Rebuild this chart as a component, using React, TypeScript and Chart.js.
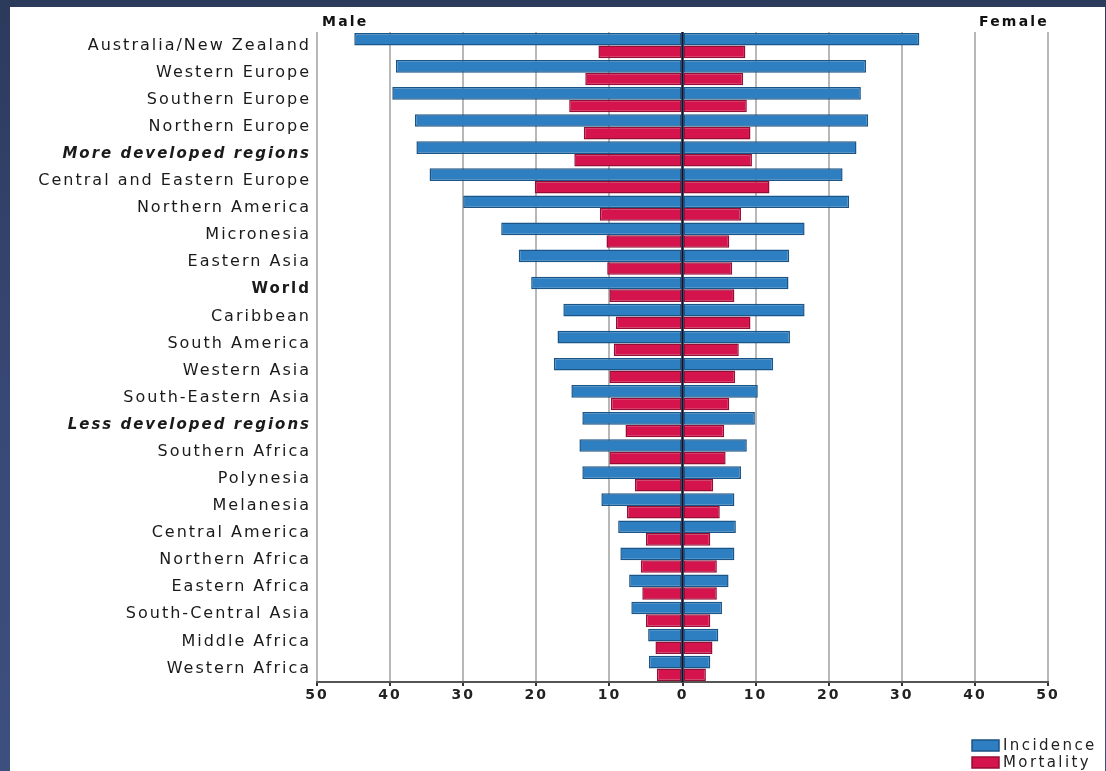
import React, { useEffect, useRef } from "react";
import { Chart, registerables } from "chart.js";

Chart.register(...registerables);

const categories = [
  "Australia/New Zealand",
  "Western Europe",
  "Southern Europe",
  "Northern Europe",
  "More developed regions",
  "Central and Eastern Europe",
  "Northern America",
  "Micronesia",
  "Eastern Asia",
  "World",
  "Caribbean",
  "South America",
  "Western Asia",
  "South-Eastern Asia",
  "Less developed regions",
  "Southern Africa",
  "Polynesia",
  "Melanesia",
  "Central America",
  "Northern Africa",
  "Eastern Africa",
  "South-Central Asia",
  "Middle Africa",
  "Western Africa",
];

const boldItalicLabels = ["More developed regions", "Less developed regions"];
const boldLabels = ["World"];

const maleIncidence = [44.9, 39.2, 39.7, 36.6, 36.4, 34.6, 30.0, 24.8, 22.4, 20.7, 16.3, 17.1, 17.6, 15.2, 13.7, 14.1, 13.7, 11.1, 8.8, 8.5, 7.3, 7.0, 4.7, 4.6];
const femaleIncidence = [32.4, 25.1, 24.4, 25.4, 23.8, 21.9, 22.8, 16.7, 14.6, 14.5, 16.7, 14.7, 12.4, 10.3, 9.9, 8.8, 8.0, 7.1, 7.3, 7.1, 6.3, 5.4, 4.9, 3.8];
const maleMortality = [11.5, 13.3, 15.5, 13.5, 14.8, 20.2, 11.3, 10.4, 10.3, 10.0, 9.1, 9.4, 10.0, 9.8, 7.8, 10.0, 6.5, 7.6, 5.0, 5.7, 5.5, 5.0, 3.7, 3.5];
const femaleMortality = [8.6, 8.3, 8.8, 9.3, 9.5, 11.9, 8.0, 6.4, 6.8, 7.1, 9.3, 7.7, 7.2, 6.4, 5.7, 5.9, 4.2, 5.1, 3.8, 4.7, 4.7, 3.8, 4.1, 3.2];

const xTickLabels = ["50", "40", "30", "20", "10", "0", "10", "20", "30", "40", "50"];
const sideLabels = ["Male", "Female"];
const seriesNames = ["Incidence", "Mortality"];

const BLUE = "#2d7fc1";
const BLUE_BORDER = "#1b5486";
const RED = "#d5134c";
const RED_BORDER = "#950e36";

const FONT = "'DejaVu Sans', 'Liberation Sans', sans-serif";

const overlayPlugin = {
  id: "overlay",
  beforeDraw(chart: any) {
    (chart.ctx as any).letterSpacing = "2px";
  },
  afterDatasetsDraw(chart: any) {
    const { ctx, chartArea, scales } = chart;
    const x = scales.x;
    const zero = x.getPixelForValue(0);
    ctx.save();
    ctx.strokeStyle = "#0b1533";
    ctx.lineWidth = 2.5;
    ctx.beginPath();
    ctx.moveTo(zero, chartArea.top);
    ctx.lineTo(zero, chartArea.bottom);
    ctx.stroke();
    ctx.restore();
  },
  afterDraw(chart: any) {
    const { ctx, chartArea } = chart;
    ctx.save();
    ctx.fillStyle = "#111";
    ctx.font = `bold 14px ${FONT}`;
    (ctx as any).letterSpacing = "2.2px";
    ctx.textBaseline = "alphabetic";
    ctx.textAlign = "left";
    ctx.fillText(sideLabels[0], chartArea.left + 5, chartArea.top - 6);
    ctx.textAlign = "right";
    ctx.fillText(sideLabels[1], chartArea.right + 1, chartArea.top - 6);

    // legend
    const colors = [
      [BLUE, BLUE_BORDER],
      [RED, RED_BORDER],
    ];
    const lx = 962;
    const ly0 = 733;
    ctx.font = `15px ${FONT}`;
    (ctx as any).letterSpacing = "2.4px";
    ctx.textAlign = "left";
    ctx.textBaseline = "middle";
    seriesNames.forEach((name, i) => {
      const y = ly0 + i * 17;
      ctx.fillStyle = colors[i][0];
      ctx.strokeStyle = colors[i][1];
      ctx.lineWidth = 1.5;
      ctx.fillRect(lx, y, 27, 11);
      ctx.strokeRect(lx, y, 27, 11);
      ctx.fillStyle = "#222";
      ctx.fillText(name, lx + 31, y + 6);
    });
    ctx.restore();
  },
};

export default function App() {
  const canvasRef = useRef<HTMLCanvasElement | null>(null);

  useEffect(() => {
    if (!canvasRef.current) return;
    const common = {
      borderWidth: 1.5,
      borderSkipped: false,
      categoryPercentage: 0.93,
      barPercentage: 1.0,
    };
    const chart = new Chart(canvasRef.current, {
      type: "bar",
      data: {
        labels: categories,
        datasets: [
          {
            ...common,
            label: seriesNames[0],
            data: maleIncidence.map((v) => -v),
            stack: "inc",
            backgroundColor: BLUE,
            borderColor: BLUE_BORDER,
          },
          {
            ...common,
            label: seriesNames[0],
            data: femaleIncidence,
            stack: "inc",
            backgroundColor: BLUE,
            borderColor: BLUE_BORDER,
          },
          {
            ...common,
            label: seriesNames[1],
            data: maleMortality.map((v) => -v),
            stack: "mort",
            backgroundColor: RED,
            borderColor: RED_BORDER,
          },
          {
            ...common,
            label: seriesNames[1],
            data: femaleMortality,
            stack: "mort",
            backgroundColor: RED,
            borderColor: RED_BORDER,
          },
        ] as any,
      },
      options: {
        indexAxis: "y",
        animation: false,
        responsive: true,
        maintainAspectRatio: false,
        layout: { padding: { left: 0, top: 25, right: 57, bottom: 59 } },
        plugins: {
          legend: { display: false },
          tooltip: { enabled: false },
          title: { display: false },
        },
        scales: {
          x: {
            type: "linear",
            stacked: true,
            min: -50,
            max: 50,
            afterFit: (s: any) => {
              s.height = 30;
            },
            border: { display: true, color: "#555", width: 2 },
            grid: {
              color: (c: any) => (c.tick && c.tick.value === 0 ? "rgba(0,0,0,0)" : "#b8b8b8"),
              lineWidth: 2,
              drawTicks: true,
              tickLength: 4,
              tickColor: "#333",
              tickWidth: 2,
            },
            ticks: {
              stepSize: 10,
              padding: 1,
              color: "#222",
              font: { family: FONT, size: 14, weight: "bold" },
              callback: (_v: any, i: number) => xTickLabels[i],
            },
          },
          y: {
            type: "category",
            stacked: true,
            afterFit: (s: any) => {
              s.width = 307;
            },
            border: { display: false },
            grid: { display: false },
            ticks: {
              padding: -2,
              color: "#1a1a1a",
              autoSkip: false,
              font: (c: any) => {
                const label = categories[c.index];
                if (boldItalicLabels.includes(label))
                  return { family: FONT, size: 15, weight: "bold", style: "italic" };
                if (boldLabels.includes(label))
                  return { family: FONT, size: 15, weight: "bold" };
                return { family: FONT, size: 16 };
              },
            },
          },
        },
      } as any,
      plugins: [overlayPlugin],
    });
    return () => chart.destroy();
  }, []);

  return (
    <div
      style={{
        position: "absolute",
        left: 0,
        top: 0,
        width: 1106,
        height: 771,
        background: "linear-gradient(180deg, #2c3a5c 0%, #3a4a78 60%, #3d4f7e 100%)",
        overflow: "hidden",
      }}
    >
      <div
        style={{
          position: "absolute",
          left: 10,
          top: 7,
          width: 1095,
          height: 764,
          background: "#ffffff",
        }}
      >
        <canvas ref={canvasRef} />
      </div>
    </div>
  );
}
